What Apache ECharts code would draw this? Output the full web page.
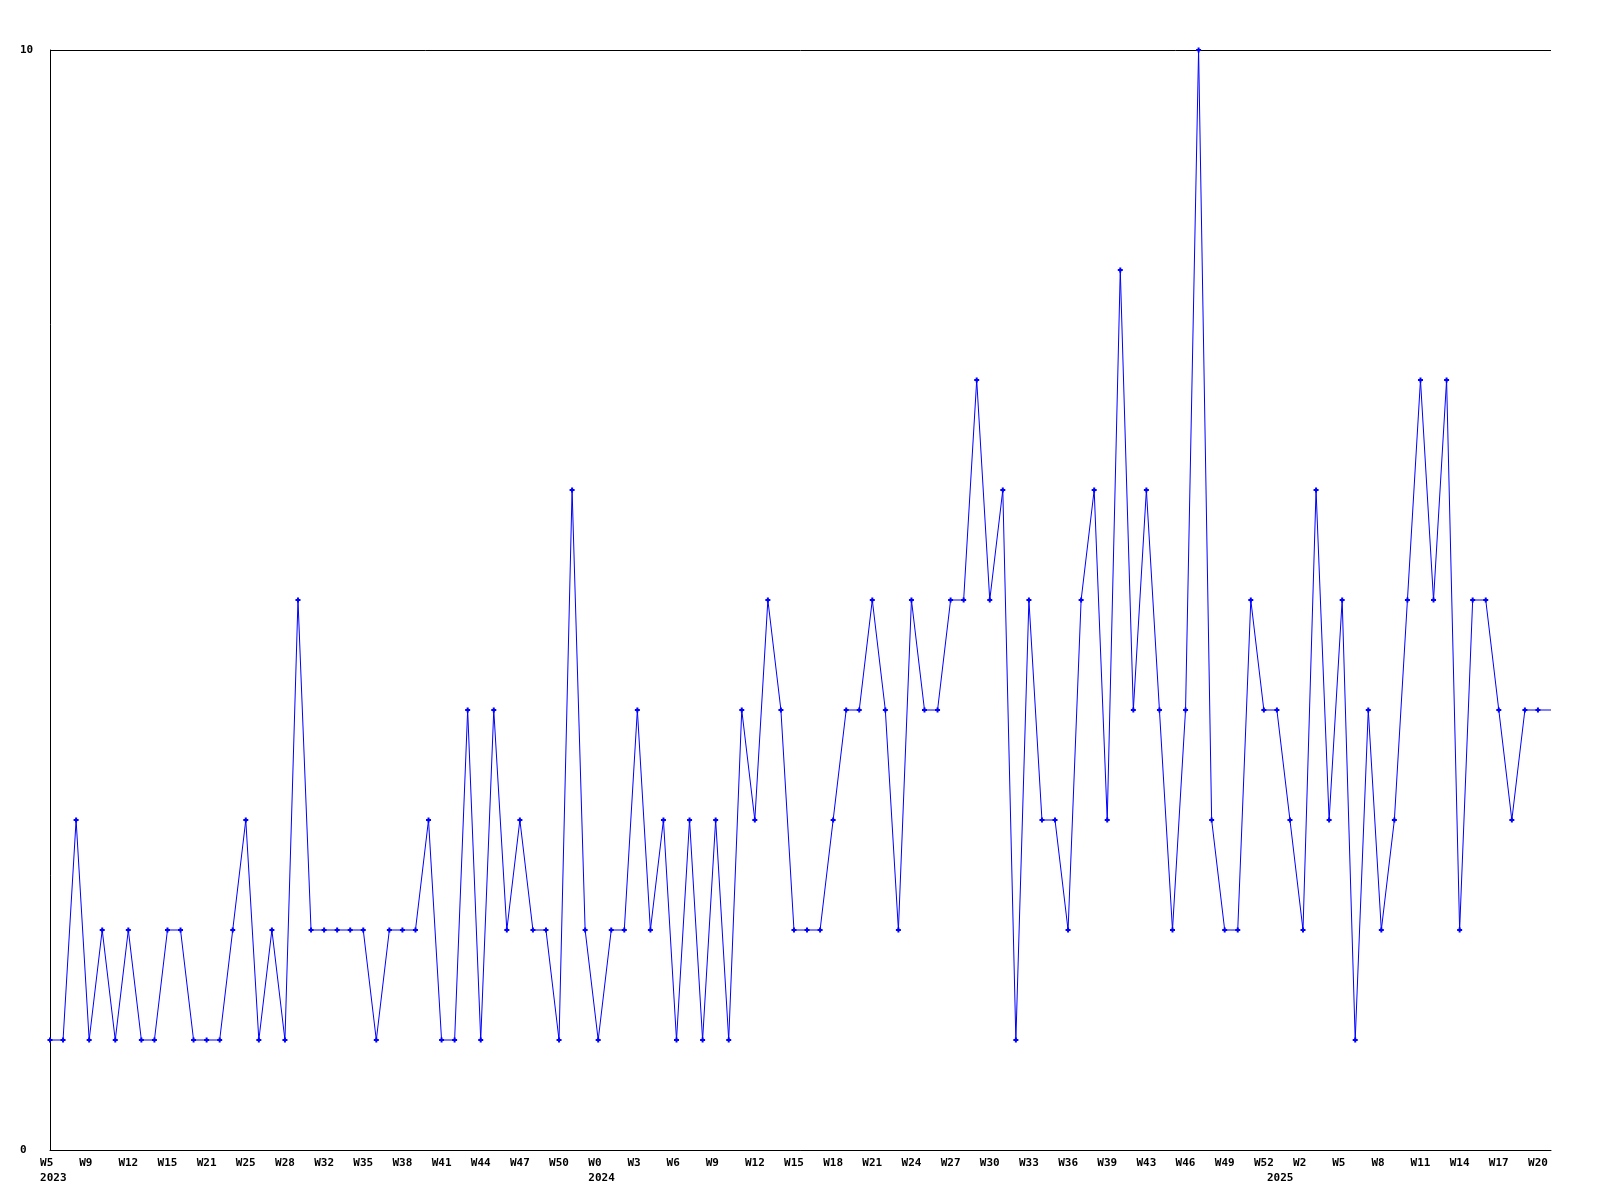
<!DOCTYPE html>
<html>
<head>
<meta charset="utf-8">
<script src="https://cdn.jsdelivr.net/npm/echarts@6/dist/echarts.min.js"></script>
<style>
html,body{margin:0;padding:0;background:#ffffff;}
#c{width:1600px;height:1200px;}
</style>
</head>
<body>
<div id="c"></div>
<script>
// Week tick labels, one every 3 points
const tickLabels = ['W5','W9','W12','W15','W21','W25','W28','W32','W35','W38','W41','W44','W47','W50',
  'W0','W3','W6','W9','W12','W15','W18','W21','W24','W27','W30','W33','W36','W39','W43','W46','W49','W52',
  'W2','W5','W8','W11','W14','W17','W20'];
const tickStep = 3;
// Year labels and the point index where each year starts
const yearLabels = ['2023','2024','2025'];
const yearIndex = [0, 42, 94];
// Weekly counts
const values = [
  1,1,3,1,2,1,2,1,1,2,
  2,1,1,1,2,3,1,2,1,5,
  2,2,2,2,2,1,2,2,2,3,
  1,1,4,1,4,2,3,2,2,1,
  6,2,1,2,2,4,2,3,1,3,
  1,3,1,4,3,5,4,2,2,2,
  3,4,4,5,4,2,5,4,4,5,
  5,7,5,6,1,5,3,3,2,5,
  6,3,8,4,6,4,2,4,10,3,
  2,2,5,4,4,3,2,6,3,5,
  1,4,2,3,5,7,5,7,2,5,
  5,4,3,4,4,4
];
const yMin = 0, yMax = 10;

const categories = values.map((v, i) => 'p' + i);

function pad3(s){ while (s.length < 3) s += ' '; return s; }

const font = {fontFamily: 'DejaVu Sans Mono', fontWeight: 'bold', fontSize: 11, color: '#000'};

const chart = echarts.init(document.getElementById('c'), null, {renderer: 'canvas'});
chart.setOption({
  animation: false,
  backgroundColor: '#ffffff',
  grid: {left: 50, right: 49, top: 50, bottom: 50, containLabel: false},
  xAxis: {
    type: 'category',
    data: categories,
    boundaryGap: false,
    axisLine: {show: true, lineStyle: {color: '#000', width: 1}},
    axisTick: {show: false},
    splitLine: {show: false},
    axisLabel: Object.assign({
      show: true,
      margin: 6,
      lineHeight: 15,
      align: 'center',
      hideOverlap: false,
      interval: function (index) { return index % tickStep === 0 || yearIndex.indexOf(index) >= 0; },
      formatter: function (value, index) {
        let top = ' ';
        if (index % tickStep === 0 && tickLabels[index / tickStep] !== undefined) top = pad3(tickLabels[index / tickStep]);
        const yi = yearIndex.indexOf(index);
        if (yi >= 0) return top + '\n ' + yearLabels[yi];
        return top;
      }
    }, font)
  },
  yAxis: {
    type: 'value',
    min: yMin, max: yMax, interval: 10,
    axisLine: {show: true, lineStyle: {color: '#000', width: 1}},
    axisTick: {show: false},
    splitLine: {show: true, lineStyle: {color: '#000', width: 1}},
    axisLabel: Object.assign({align: 'left', margin: 30}, font)
  },
  series: [{
    type: 'line',
    data: values,
    symbol: 'path://M1.5,0h2v1.5h1.5v2h-1.5v1.5h-2v-1.5h-1.5v-2h1.5z',
    symbolSize: function (val, params) { return params.dataIndex === values.length - 1 ? 0 : 5; },
    showAllSymbol: true,
    lineStyle: {color: '#0000ff', width: 1},
    itemStyle: {color: '#0000ff'},
    clip: false
  }]
});
</script>
</body>
</html>
